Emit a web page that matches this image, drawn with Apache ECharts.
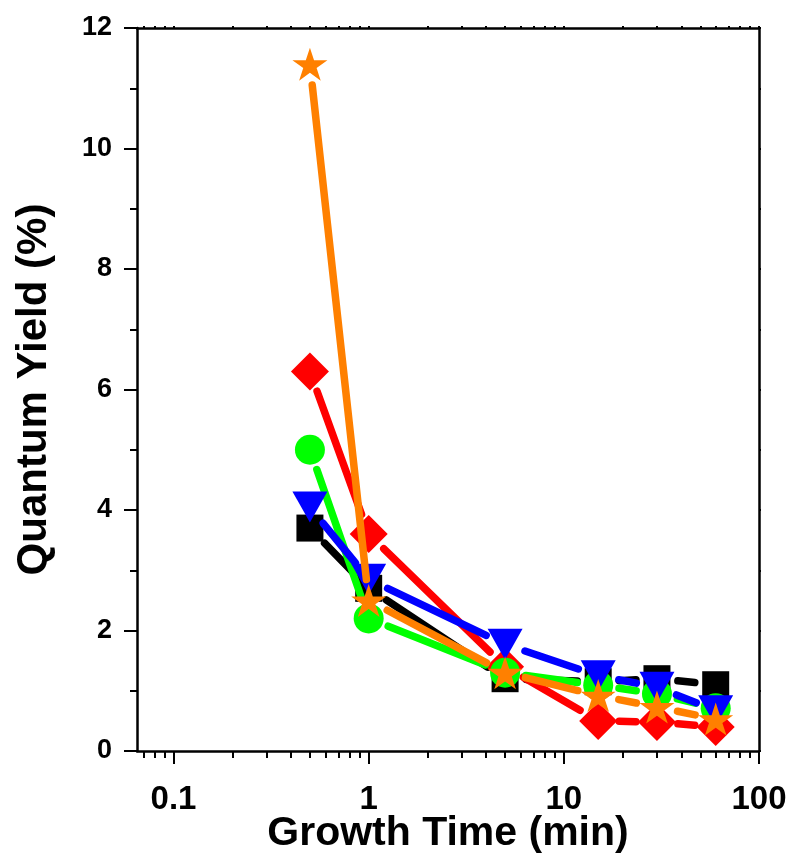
<!DOCTYPE html>
<html>
<head>
<meta charset="utf-8">
<script src="https://cdn.jsdelivr.net/npm/echarts@6/dist/echarts.min.js"></script>
<style>
  html, body { margin: 0; padding: 0; background: #ffffff; }
  #chart { width: 789px; height: 859px; }
</style>
</head>
<body>
<div id="chart"></div>
<script>
// Growth time (min) and quantum yield (%) for each sample set
const growthTimes = [0.5, 1, 5, 15, 30, 60];
const yieldBlack  = [3.7, 2.7, 1.2, 1.15, 1.2, 1.1];
const yieldRed    = [6.3, 3.6, 1.4, 0.5, 0.48, 0.4];
const yieldGreen  = [5.0, 2.2, 1.3, 1.09, 0.95, 0.71];
const yieldBlue   = [4.05, 2.85, 1.77, 1.25, 1.06, 0.67];
const yieldOrange = [11.4, 2.5, 1.3, 0.92, 0.73, 0.53];

// Axis ticks
const xMajorTicks = [0.1, 1, 10, 100];
const xMinorTicks = [0.07, 0.08, 0.09,
  0.2, 0.3, 0.4, 0.5, 0.6, 0.7, 0.8, 0.9,
  2, 3, 4, 5, 6, 7, 8, 9,
  20, 30, 40, 50, 60, 70, 80, 90];
const xAllTicks = xMinorTicks.concat(xMajorTicks);

const X_MIN = 0.065, X_MAX = 100;
const Y_MIN = 0, Y_MAX = 12, Y_STEP = 2;

const STAR = 'path://M50 0 L61.23 34.55 L97.55 34.55 L68.16 55.9 L79.39 90.45 L50 69.1 L20.61 90.45 L31.84 55.9 L2.45 34.55 L38.77 34.55 Z';

const sets = [
  { name: 'A', values: yieldBlack,  color: '#000000', symbol: 'rect',     size: 27,       rotate: 0 },
  { name: 'B', values: yieldRed,    color: '#ff0000', symbol: 'diamond',  size: 38,       rotate: 0 },
  { name: 'C', values: yieldGreen,  color: '#00ff00', symbol: 'circle',   size: 30,       rotate: 0 },
  { name: 'D', values: yieldBlue,   color: '#0000ff', symbol: 'triangle', size: [35, 31], rotate: 180 },
  { name: 'E', values: yieldOrange, color: '#ff8000', symbol: STAR,       size: [35, 33], rotate: 0 }
];

// Connecting segments stop short of each marker, leaving a small gap
const GAP = 21;
function segmentsOf(values) {
  const out = [];
  for (let i = 0; i < growthTimes.length - 1; i++) {
    out.push([growthTimes[i], values[i], growthTimes[i + 1], values[i + 1]]);
  }
  return out;
}
function gappedSegment(color) {
  return function (params, api) {
    const a = api.coord([api.value(0), api.value(1)]);
    const b = api.coord([api.value(2), api.value(3)]);
    const dx = b[0] - a[0], dy = b[1] - a[1];
    const d = Math.hypot(dx, dy);
    if (d <= 2 * GAP) return null;
    const ux = dx / d, uy = dy / d;
    return {
      type: 'line',
      shape: { x1: a[0] + ux * GAP, y1: a[1] + uy * GAP, x2: b[0] - ux * GAP, y2: b[1] - uy * GAP },
      style: { stroke: color, lineWidth: 7.5, lineCap: 'round' }
    };
  };
}

const series = [];
sets.forEach(function (s, k) {
  series.push({
    type: 'custom',
    name: s.name + '-line',
    xAxisIndex: 0, yAxisIndex: 0,
    data: segmentsOf(s.values),
    encode: { x: [0, 2], y: [1, 3] },
    renderItem: gappedSegment(s.color),
    clip: false,
    silent: true,
    z: 10 + 2 * k
  });
  series.push({
    type: 'scatter',
    name: s.name,
    xAxisIndex: 0, yAxisIndex: 0,
    data: growthTimes.map(function (t, i) { return [t, s.values[i]]; }),
    symbol: s.symbol,
    symbolSize: s.size,
    symbolRotate: s.rotate,
    itemStyle: { color: s.color, opacity: 1 },
    silent: true,
    z: 11 + 2 * k
  });
});

const AXIS_COLOR = '#000000';
const FONT = '"Liberation Sans", Arial, sans-serif';

const fmtX = function (v) { return String(Number(Number(v).toPrecision(6))); };

const option = {
  animation: false,
  backgroundColor: '#ffffff',
  grid: { left: 137, right: 30, top: 28, bottom: 108, containLabel: false, outerBoundsMode: 'none' },
  xAxis: [
    {
      type: 'log', logBase: 10, min: X_MIN, max: X_MAX, position: 'bottom',
      name: 'Growth Time (min)', nameLocation: 'middle', nameGap: 62, nameMoveOverlap: false,
      nameTextStyle: { fontFamily: FONT, fontSize: 41, fontWeight: 'bold', color: AXIS_COLOR },
      axisLine: { show: true, onZero: false, lineStyle: { color: AXIS_COLOR, width: 2.5 } },
      axisTick: { show: true, inside: false, length: 13, customValues: xMajorTicks,
        lineStyle: { color: AXIS_COLOR, width: 2 } },
      axisLabel: { show: true, margin: 32, customValues: xMajorTicks, formatter: fmtX,
        fontFamily: FONT, fontSize: 33, fontWeight: 'bold', color: AXIS_COLOR },
      minorTick: { show: false }, splitLine: { show: false }
    },
    {
      type: 'log', logBase: 10, min: X_MIN, max: X_MAX, position: 'bottom',
      axisLine: { show: false },
      axisTick: { show: true, inside: false, length: 7, customValues: xMinorTicks,
        lineStyle: { color: AXIS_COLOR, width: 2 } },
      axisLabel: { show: false },
      splitLine: { show: false }
    },
    {
      type: 'log', logBase: 10, min: X_MIN, max: X_MAX, position: 'top',
      axisLine: { show: true, onZero: false, lineStyle: { color: AXIS_COLOR, width: 2.5 } },
      axisTick: { show: true, inside: false, length: 2, customValues: xAllTicks,
        lineStyle: { color: AXIS_COLOR, width: 2 } },
      axisLabel: { show: false },
      splitLine: { show: false }
    }
  ],
  yAxis: [
    {
      type: 'value', min: Y_MIN, max: Y_MAX, interval: Y_STEP, position: 'left',
      name: 'Quantum Yield (%)', nameLocation: 'middle', nameGap: 82, nameMoveOverlap: false,
      nameTextStyle: { fontFamily: FONT, fontSize: 42, fontWeight: 'bold', color: AXIS_COLOR },
      axisLine: { show: true, onZero: false, lineStyle: { color: AXIS_COLOR, width: 2.5 } },
      axisTick: { show: true, inside: false, length: 13, lineStyle: { color: AXIS_COLOR, width: 2 } },
      minorTick: { show: true, splitNumber: 2, length: 7, lineStyle: { color: AXIS_COLOR, width: 2 } },
      axisLabel: { show: true, margin: 25, fontFamily: FONT, fontSize: 27, fontWeight: 'bold', color: AXIS_COLOR },
      splitLine: { show: false }, minorSplitLine: { show: false }
    },
    {
      type: 'value', min: Y_MIN, max: Y_MAX, interval: Y_STEP, position: 'right',
      axisLine: { show: true, onZero: false, lineStyle: { color: AXIS_COLOR, width: 2.5 } },
      axisTick: { show: true, inside: false, length: 2, lineStyle: { color: AXIS_COLOR, width: 2 } },
      minorTick: { show: true, splitNumber: 2, length: 2, lineStyle: { color: AXIS_COLOR, width: 2 } },
      axisLabel: { show: false },
      splitLine: { show: false }, minorSplitLine: { show: false }
    }
  ],
  series: series
};

const chart = echarts.init(document.getElementById('chart'), null, { renderer: 'canvas' });
chart.setOption(option);
</script>
</body>
</html>
